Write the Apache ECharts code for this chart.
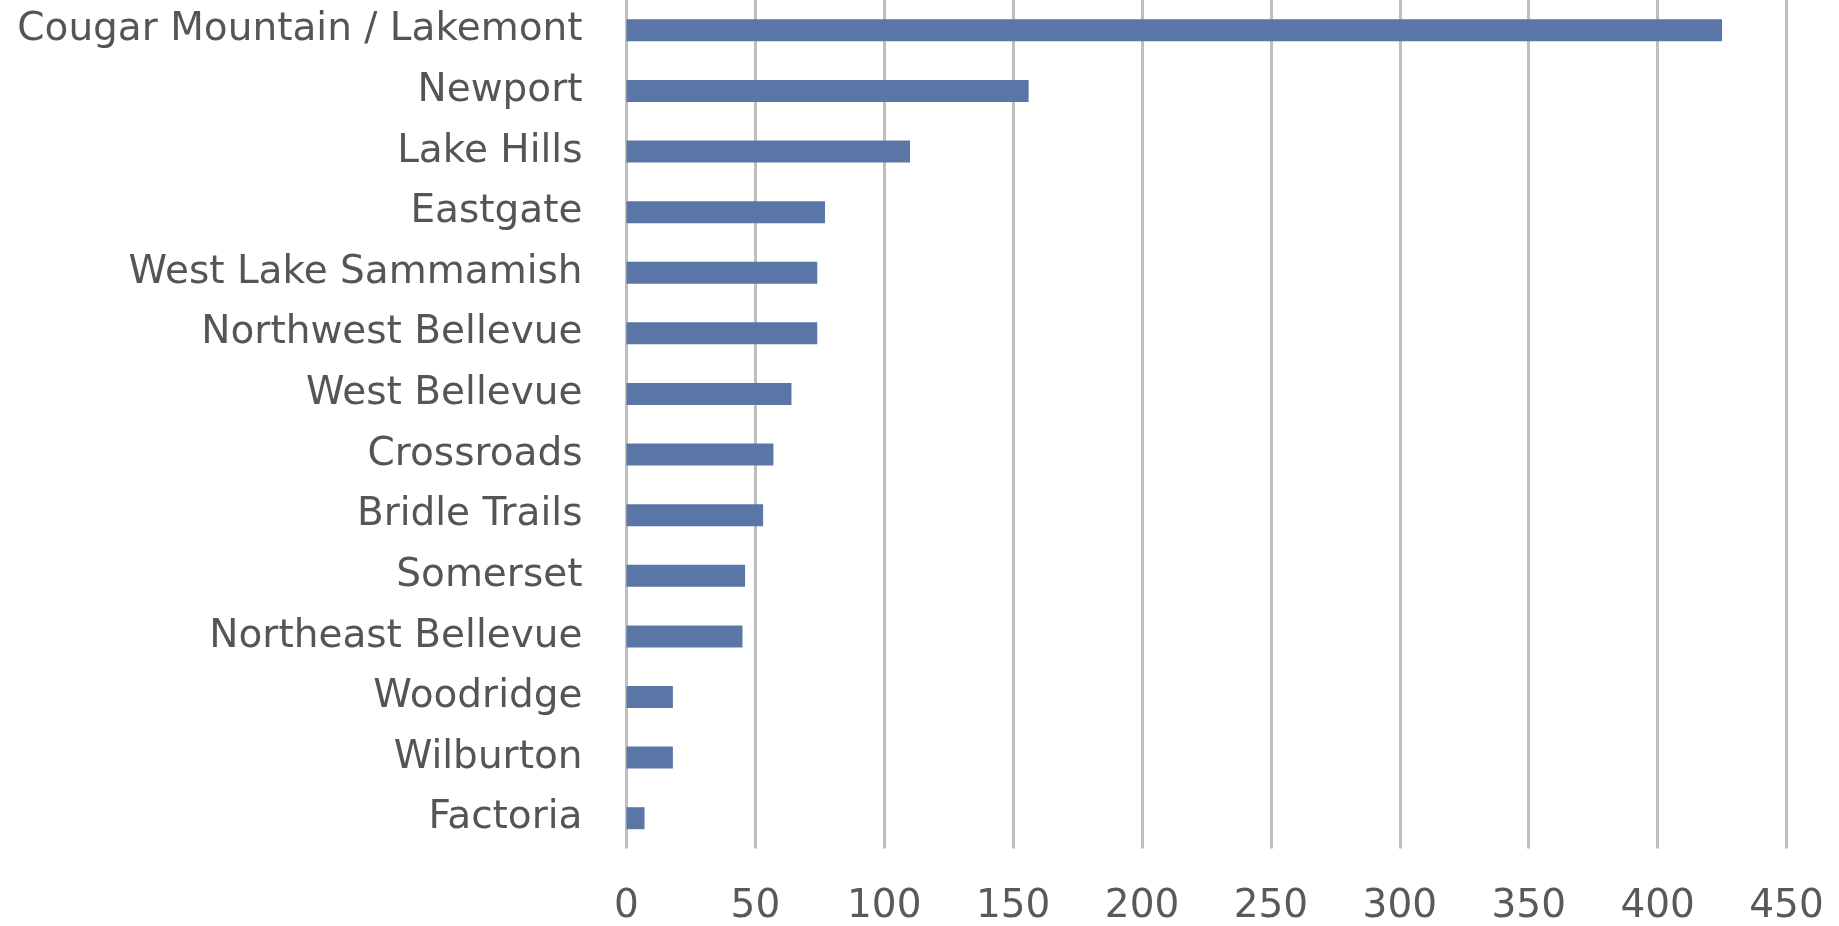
<!DOCTYPE html>
<html>
<head>
<meta charset="utf-8">
<script src="https://cdn.jsdelivr.net/npm/echarts@6/dist/echarts.min.js"></script>
<style>
html,body{margin:0;padding:0;background:#fff;}
#chart{width:1839px;height:926px;}
</style>
</head>
<body>
<div id="chart"></div>
<script>
const categories = ["Cougar Mountain / Lakemont","Newport","Lake Hills","Eastgate","West Lake Sammamish","Northwest Bellevue","West Bellevue","Crossroads","Bridle Trails","Somerset","Northeast Bellevue","Woodridge","Wilburton","Factoria"];
const values = [425,156,110,77,74,74,64,57,53,46,45,18,18,7];
const xTicks = {min:0, max:450, interval:50};

const chart = echarts.init(document.getElementById('chart'));
const font = "'DejaVu Sans', sans-serif";
chart.setOption({
  animation:false,
  grid:{left:626.5, right:52.5, top:0, bottom:71, containLabel:false},
  xAxis:{
    type:'value', min:xTicks.min, max:xTicks.max, interval:xTicks.interval,
    axisLine:{show:false}, axisTick:{show:false},
    splitLine:{show:true, lineStyle:{color:'#bfbfbf', width:3}},
    axisLabel:{color:'#595959', fontSize:39, fontFamily:font, margin:58, verticalAlign:'middle'}
  },
  yAxis:{
    type:'category', data:categories, inverse:true,
    axisLine:{show:false}, axisTick:{show:false},
    axisLabel:{color:'#555555', fontSize:39, fontFamily:font, margin:44}
  },
  series:[{type:'bar', data:values, barWidth:22, itemStyle:{color:'#5a76a6'}}]
});
</script>
</body>
</html>
